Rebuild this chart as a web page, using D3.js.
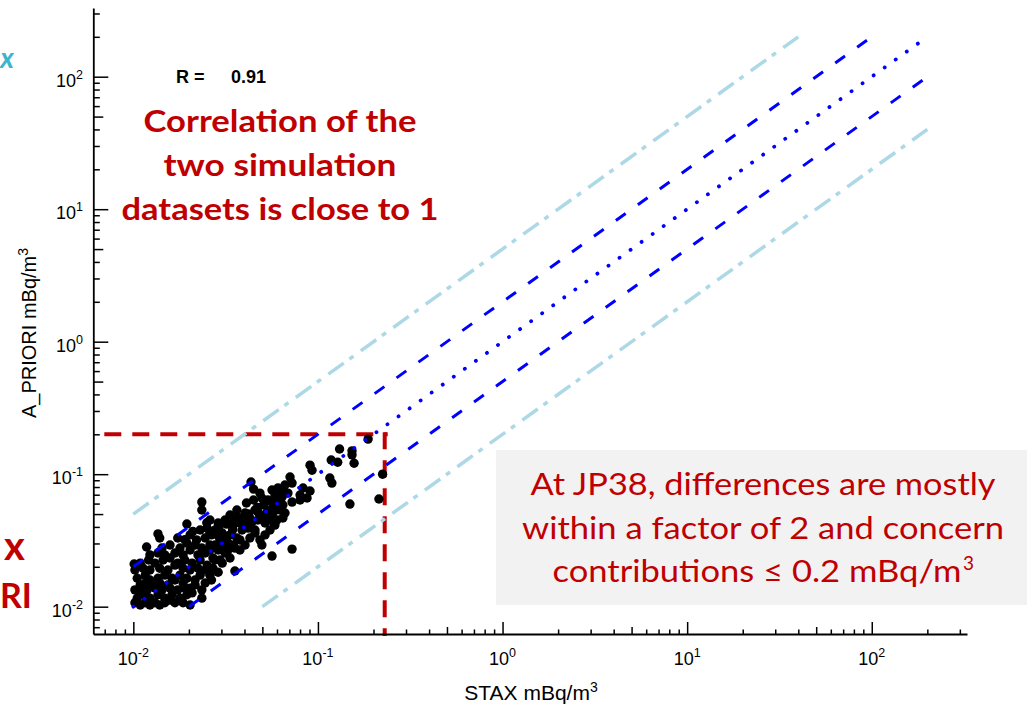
<!DOCTYPE html>
<html><head><meta charset="utf-8">
<script src="https://cdn.jsdelivr.net/npm/d3@7"></script>
<style>
html,body{margin:0;padding:0;background:#fff;overflow:hidden;}
svg{display:block;}
</style></head><body>
<svg id="chart" width="1027" height="710"></svg>
<script>
// ---------------- DATA ----------------
// scatter points: [STAX, A_PRIORI] in mBq/m3
const points = [
[0.0102,0.0107],[0.0109,0.0103],[0.0116,0.0107],[0.0123,0.0103],[0.0131,0.0107],[0.0139,0.0103],[0.0148,0.0107],[0.0158,0.0112],[0.0168,0.0107],[0.0186,0.0107],[0.0203,0.0103],
[0.0105,0.0116],[0.0113,0.0123],[0.0123,0.0116],[0.0136,0.0123],[0.0148,0.0116],[0.0162,0.0123],[0.0179,0.0116],[0.0195,0.0123],
[0.0102,0.0134],[0.0109,0.0127],[0.0119,0.0134],[0.0131,0.0138],[0.0143,0.0134],[0.0158,0.0138],[0.0174,0.0134],[0.0190,0.0138],[0.0208,0.0127],[0.0235,0.0134],[0.0235,0.0116],
[0.0109,0.0146],[0.0116,0.0151],[0.0126,0.0146],[0.0139,0.0151],[0.0154,0.0146],[0.0168,0.0159],[0.0186,0.0151],[0.0203,0.0138],
[0.0105,0.0164],[0.0116,0.0173],[0.0123,0.0159],[0.0136,0.0164],[0.0148,0.0173],[0.0162,0.0164],[0.0179,0.0173],[0.0195,0.0164],[0.0216,0.0159],[0.0230,0.0173],
[0.0102,0.0189],[0.0113,0.0195],[0.0123,0.0189],[0.0139,0.0195],[0.0154,0.0189],[0.0168,0.0206],[0.0186,0.0195],[0.0203,0.0189],[0.0224,0.0195],[0.0245,0.0189],
[0.0109,0.0213],[0.0101,0.0210],[0.0121,0.0225],[0.0131,0.0213],[0.0145,0.0225],[0.0158,0.0233],[0.0174,0.0213],[0.0190,0.0225],[0.0208,0.0213],[0.0230,0.0225],[0.0251,0.0206],[0.0270,0.0195],
[0.0123,0.0246],[0.0136,0.0254],[0.0148,0.0246],[0.0168,0.0254],[0.0186,0.0246],[0.0203,0.0268],[0.0224,0.0246],[0.0245,0.0254],[0.0270,0.0233],[0.0295,0.0225],
[0.0118,0.0282],[0.0143,0.0277],[0.0158,0.0292],[0.0179,0.0277],[0.0195,0.0302],[0.0216,0.0292],[0.0235,0.0277],[0.0260,0.0292],[0.0288,0.0268],[0.0314,0.0254],
[0.0136,0.0354],[0.0139,0.0330],[0.0195,0.0421],[0.0174,0.0330],[0.0203,0.0348],[0.0220,0.0319],[0.0245,0.0330],[0.0265,0.0348],[0.0295,0.0319],[0.0326,0.0302],[0.0355,0.0277],
[0.0230,0.0379],[0.0251,0.0392],[0.0277,0.0379],[0.0303,0.0360],[0.0334,0.0348],[0.0364,0.0330],[0.0388,0.0379],
[0.0235,0.0616],[0.0235,0.0537],[0.0260,0.0451],[0.0288,0.0428],[0.0314,0.0451],[0.0348,0.0413],[0.0378,0.0428],[0.0418,0.0392],[0.0456,0.0379],
[0.0334,0.0492],[0.0364,0.0467],[0.0403,0.0509],[0.0428,0.0467],[0.0473,0.0451],[0.0517,0.0428],[0.0364,0.0537],
[0.0410,0.0606],[0.0448,0.0638],[0.0456,0.0537],[0.0507,0.0585],[0.0527,0.0509],[0.0485,0.0720],[0.0448,0.0772],[0.0434,0.0872],
[0.0564,0.0759],[0.0607,0.0786],[0.0646,0.0733],[0.0688,0.0720],[0.0639,0.0673],[0.0600,0.0616],[0.0724,0.0616],[0.0646,0.0585],[0.0623,0.0537],[0.0663,0.0509],[0.0571,0.0509],[0.0646,0.0467],[0.0600,0.0451],
[0.0706,0.0952],[0.0724,0.0857],[0.0800,0.0696],[0.0831,0.0786],[0.0873,0.0661],[0.0906,0.0746],[0.0800,0.0638],
[0.0906,0.117],[0.0929,0.107],[0.116,0.0935],[0.119,0.0857],[0.118,0.128],[0.128,0.123],[0.131,0.155],[0.153,0.150],[0.153,0.140],[0.157,0.121],[0.187,0.184],[0.224,0.100],[0.214,0.0650],[0.149,0.0595],
[0.0571,0.0437],[0.0564,0.0241],[0.0724,0.0272],[0.0355,0.0186],
[0.0260,0.0268],[0.0277,0.0292],[0.0303,0.0277],[0.0326,0.0268],[0.0348,0.0292],[0.0378,0.0319],[0.0403,0.0292],[0.0428,0.0330],[0.0456,0.0360],[0.0485,0.0319],[0.0517,0.0348],[0.0550,0.0379],[0.0585,0.0413],[0.0497,0.0292],[0.0378,0.0268],[0.0334,0.0233],[0.0303,0.0213],[0.0277,0.0225],[0.0260,0.0173],[0.0288,0.0182],[0.0216,0.0146],[0.0245,0.0151],[0.0265,0.0159],
[0.0403,0.0413],[0.0440,0.0437],[0.0473,0.0519],[0.0550,0.0537],[0.0585,0.0585],[0.0536,0.0638],[0.0497,0.0661],[0.0585,0.0696],[0.0663,0.0828],
[0.0250,0.0430],[0.0290,0.0400],[0.0320,0.0420],[0.0350,0.0450],[0.0390,0.0470],[0.0420,0.0500],[0.0470,0.0560],[0.0500,0.0480],[0.0540,0.0460],[0.0560,0.0620],
[0.0190,0.0320],[0.0210,0.0370],[0.0260,0.0360],[0.0290,0.0340],[0.0320,0.0330],[0.0345,0.0380]
];
const xDomain = [0.00607, 328];
const yDomain = [0.00622, 330];
const ratios = [5, 2, 1, 0.5, 0.2];          // y = k * x reference lines
const ratioBounds = [0.01, 200];
const thresholdY = 0.2;
const thresholdX = 0.23;
const majorTicks = [0.01, 0.1, 1, 10, 100];
const tickExponents = ["-2", "-1", "0", "1", "2"];
const xTitle = ["STAX mBq/m", "3"];
const yTitle = ["A_PRIORI mBq/m", "3"];
const rLabel = "R =";
const rValue = "0.91";
const corrLines = ["Correlation of the", "two simulation", "datasets is close to 1"];
const noteLines = ["At JP38, differences are mostly", "within a factor of 2 and concern", "contributions ≤ 0.2 mBq/m"];
const noteSup = "3";

// ---------------- STYLES ----------------
const ratioStyle = {
  "5":   {stroke:"#add8e6", w:3.5, dash:"19,7,5,9", cap:"butt"},
  "2":   {stroke:"#0000ff", w:3,   dash:"12,15",    cap:"butt"},
  "1":   {stroke:"#0000ff", w:3.8, dash:"0.1,13.5", cap:"round"},
  "0.5": {stroke:"#0000ff", w:3,   dash:"12,15",    cap:"butt"},
  "0.2": {stroke:"#add8e6", w:3.5, dash:"19,7,5,9", cap:"butt"}
};
const RED = "#c00000";
const AX = "'Liberation Sans', Arial, Helvetica, sans-serif";
const NOTE = "Lato, 'Open Sans', sans-serif";

const svg = d3.select("#chart");
const x = d3.scaleLog().domain(xDomain).range([93.3, 967]);
const y = d3.scaleLog().domain(yDomain).range([634, 8]);

// note box
svg.append("rect").attr("x", 496).attr("y", 450).attr("width", 531).attr("height", 155).attr("fill", "#f2f2f2");

// red threshold lines
svg.append("line")
  .attr("x1", x(xDomain[0])).attr("x2", x(thresholdX) + 3)
  .attr("y1", y(thresholdY)).attr("y2", y(thresholdY))
  .attr("stroke", RED).attr("stroke-width", 4).attr("stroke-dasharray", "17,11").attr("stroke-dashoffset", 17);
svg.append("line")
  .attr("x1", x(thresholdX)).attr("x2", x(thresholdX))
  .attr("y1", y(thresholdY) - 2).attr("y2", y(yDomain[0]) + 2)
  .attr("stroke", RED).attr("stroke-width", 4).attr("stroke-dasharray", "17,11");

// points
svg.append("g").selectAll("circle").data(points).join("circle")
  .attr("cx", d => x(d[0])).attr("cy", d => y(d[1])).attr("r", 4.7).attr("fill", "#000");

// reference lines
const lineGen = d3.line().x(d => x(d[0])).y(d => y(d[1]));
svg.append("g").selectAll("path").data(ratios).join("path")
  .attr("d", k => {
    const x0 = Math.max(ratioBounds[0], ratioBounds[0] / k);
    const x1 = Math.min(ratioBounds[1], ratioBounds[1] / k);
    return lineGen([[x0, k * x0], [x1, k * x1]]);
  })
  .attr("fill", "none")
  .attr("stroke", k => ratioStyle[String(k)].stroke)
  .attr("stroke-width", k => ratioStyle[String(k)].w)
  .attr("stroke-dasharray", k => ratioStyle[String(k)].dash)
  .attr("stroke-linecap", k => ratioStyle[String(k)].cap);

// axes
function leading(v){ return Math.round(v / Math.pow(10, Math.floor(Math.log10(v) + 1e-9))); }
function tickSets(scale){
  const all = scale.ticks();
  return {
    major: all.filter(v => leading(v) === 1),
    half: all.filter(v => leading(v) === 5),
    minor: all.filter(v => leading(v) !== 1 && leading(v) !== 5)
  };
}
function styleAxis(g){
  g.select(".domain").attr("stroke", "#000").attr("stroke-width", 1.8);
  g.selectAll(".tick line").attr("stroke", "#000").attr("stroke-width", 1.5);
  g.selectAll(".tick text").remove();
}
const xt = tickSets(x), yt = tickSets(y);
const xg = svg.append("g").attr("transform", "translate(0,634)");
[[xt.major, 12], [xt.half, 7], [xt.minor, 4.5]].forEach(([vals, len], i) => {
  const g = xg.append("g").call(d3.axisBottom(x).tickValues(vals).tickSize(-len).tickSizeOuter(0).tickFormat(""));
  styleAxis(g);
  if (i > 0) g.select(".domain").remove();
});
const yg = svg.append("g").attr("transform", "translate(93.3,0)");
[[yt.major, 15], [yt.half, 10], [yt.minor, 6.5]].forEach(([vals, len], i) => {
  const g = yg.append("g").call(d3.axisLeft(y).tickValues(vals).tickSize(-len).tickSizeOuter(0).tickFormat(""));
  styleAxis(g);
  if (i > 0) g.select(".domain").remove();
});

// tick labels
function powLabel(sel, exp){
  sel.append("tspan").text("10");
  sel.append("tspan").attr("dy", -8).attr("font-size", 12.5).text(exp);
}
majorTicks.forEach((v, i) => {
  const tx = svg.append("text").attr("x", x(v)).attr("y", 665).attr("text-anchor", "middle")
    .attr("font-family", AX).attr("font-size", 18).attr("fill", "#000");
  powLabel(tx, tickExponents[i]);
  const ty = svg.append("text").attr("x", 83).attr("y", y(v) + 10).attr("text-anchor", "end")
    .attr("font-family", AX).attr("font-size", 18).attr("fill", "#000");
  powLabel(ty, tickExponents[i]);
});

// axis titles
function supTitle(sel, parts){
  sel.append("tspan").text(parts[0]);
  sel.append("tspan").attr("dy", -8).attr("font-size", 14).text(parts[1]);
}
supTitle(svg.append("text").attr("x", 531).attr("y", 700).attr("text-anchor", "middle")
  .attr("font-family", AX).attr("font-size", 21).attr("fill", "#000"), xTitle);
supTitle(svg.append("text").attr("transform", "translate(36,333) rotate(-90)").attr("text-anchor", "middle")
  .attr("font-family", AX).attr("font-size", 20).attr("fill", "#000"), yTitle);

// R label
svg.append("text").attr("x", 176).attr("y", 83).attr("font-family", AX).attr("font-size", 18)
  .attr("font-weight", "bold").attr("fill", "#000").text(rLabel);
svg.append("text").attr("x", 266).attr("y", 83).attr("text-anchor", "end").attr("font-family", AX).attr("font-size", 18)
  .attr("font-weight", "bold").attr("fill", "#000").text(rValue);

// correlation annotation
const corrWidths = [273, 233, 317];
corrLines.forEach((t, i) => {
  svg.append("text").attr("x", 280).attr("y", 132 + i * 44).attr("text-anchor", "middle")
    .attr("font-family", NOTE).attr("font-weight", "bold").attr("font-size", 31).attr("fill", RED)
    .attr("textLength", corrWidths[i]).attr("lengthAdjust", "spacingAndGlyphs").text(t);
});

// note text in box
const noteWidths = [465, 482, 409];
noteLines.forEach((t, i) => {
  svg.append("text").attr("x", i === 2 ? 757 : 763).attr("y", 495 + i * 43.5).attr("text-anchor", "middle")
    .attr("font-family", NOTE).attr("font-size", 30).attr("fill", RED)
    .attr("textLength", noteWidths[i]).attr("lengthAdjust", "spacingAndGlyphs").text(t);
});
svg.append("text").attr("x", 963).attr("y", 570).attr("font-family", NOTE).attr("font-size", 19)
  .attr("fill", RED).text(noteSup);

// cut-off fragments at left edge
svg.append("text").attr("x", 14).attr("y", 68).attr("text-anchor", "end").attr("font-family", NOTE)
  .attr("font-weight", "bold").attr("font-style", "italic").attr("font-size", 28).attr("fill", "#3db5cc").text("x");
svg.append("text").attr("x", 25).attr("y", 560).attr("text-anchor", "end").attr("font-family", NOTE)
  .attr("font-weight", "bold").attr("font-size", 40).attr("fill", RED).text("x");
svg.append("text").attr("x", 0).attr("y", 608).attr("font-family", NOTE)
  .attr("font-weight", "bold").attr("font-size", 34).attr("fill", RED).text("RI");
</script>
</body></html>
